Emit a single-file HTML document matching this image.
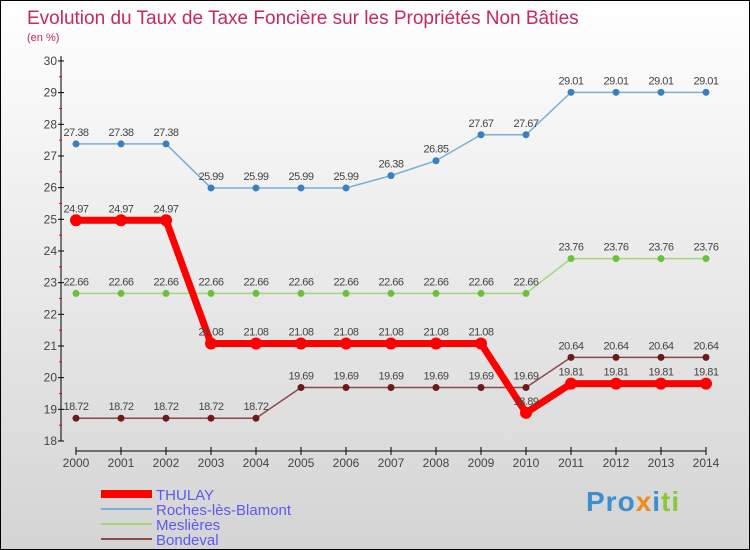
<!DOCTYPE html>
<html><head><meta charset="utf-8"><style>
body{margin:0}
#c{position:relative;width:748px;height:548px;border:1px solid #000;background:linear-gradient(#fff,#d4d4d4);font-family:"Liberation Sans",sans-serif;overflow:hidden}
svg text{font-family:"Liberation Sans",sans-serif}
</style></head><body>
<div id="c">
<svg id="s" width="748" height="548">
<text x="26" y="23" font-size="19" fill="#c8285a">Evolution du Taux de Taxe Foncière sur les Propriétés Non Bâties</text>
<text x="26" y="40" font-size="11" fill="#c8285a">(en %)</text>
<g id="g"></g>
</svg>
<div style="position:absolute;left:585px;top:485px;font-size:28px;font-weight:bold;letter-spacing:1px"><span style="color:#3a8fd0">Pro</span><span style="color:#f08a1c">x</span><span style="color:#3a8fd0">i</span><span style="color:#8cc63f">ti</span></div>
</div>
<script>
const years=[2000,2001,2002,2003,2004,2005,2006,2007,2008,2009,2010,2011,2012,2013,2014];
const yTicks=[18,19,20,21,22,23,24,25,26,27,28,29,30];
const thulay=[24.97,24.97,24.97,21.08,21.08,21.08,21.08,21.08,21.08,21.08,18.89,19.81,19.81,19.81,19.81];
const roches=[27.38,27.38,27.38,25.99,25.99,25.99,25.99,26.38,26.85,27.67,27.67,29.01,29.01,29.01,29.01];
const meslieres=[22.66,22.66,22.66,22.66,22.66,22.66,22.66,22.66,22.66,22.66,22.66,23.76,23.76,23.76,23.76];
const bondeval=[18.72,18.72,18.72,18.72,18.72,19.69,19.69,19.69,19.69,19.69,19.69,20.64,20.64,20.64,20.64];
const X=i=>75+i*45, Y=v=>440-(v-18)*31.67;
const g=document.getElementById('g'),NS='http://www.w3.org/2000/svg';
function mk(t,a){const e=document.createElementNS(NS,t);for(const k in a)e.setAttribute(k,a[k]);g.appendChild(e);return e;}
let e=mk('line',{x1:60,y1:55,x2:60,y2:440,stroke:'#000'});


e=mk('line',{x1:75,y1:450,x2:705,y2:450,stroke:'#000'});


yTicks.forEach(v=>{
 let t=mk('line',{x1:57,y1:Y(v),x2:63,y2:Y(v),stroke:'#000'});
 
 
 if(v<30){let r=mk('line',{x1:58,y1:Y(v+0.5),x2:61,y2:Y(v+0.5),stroke:'#f00'});
 
 }
 let l=mk('text',{x:56,y:Y(v)+4,'font-size':12,fill:'#444','text-anchor':'end'});l.textContent=v;
 
 
});
years.forEach((yr,i)=>{
 let t=mk('line',{x1:X(i),y1:446,x2:X(i),y2:454,stroke:'#000'});
 
 
 let l=mk('text',{x:X(i),y:466,'font-size':12,fill:'#444','text-anchor':'middle'});l.textContent=yr;
 
 
});
function series(d,col,w,r,dot,name){
 let p=mk('polyline',{points:d.map((v,i)=>X(i)+','+Y(v)).join(' '),fill:'none',stroke:col,'stroke-width':w});
 
 
 d.forEach((v,i)=>{
  let c=mk('circle',{cx:X(i),cy:Y(v),r:r,fill:dot});
  
  
  let t=mk('text',{x:X(i),y:Y(v)-8,'font-size':11,fill:'#444','text-anchor':'middle','letter-spacing':'-0.5'});t.textContent=v.toFixed(2);
  
  
 });
}
series(roches,'#7aaed6',1.5,3.5,'#3a7fbf','roches');
series(meslieres,'#a2d67a',1.5,3.5,'#6cbf3a','meslieres');
series(bondeval,'#8a4a4a',1.5,3.5,'#6a1a1a','bondeval');
series(thulay,'#f00',7,6,'#f00','thulay');
const leg=[['THULAY','#f00',8],['Roches-lès-Blamont','#7aaed6',2],['Meslières','#a2d67a',2],['Bondeval','#8a4a4a',2]];
leg.forEach((l,i)=>{
 const y=493+i*15;
 let ln=mk('line',{x1:100,y1:y,x2:151,y2:y,stroke:l[1],'stroke-width':l[2]});
 
 
 let t=mk('text',{x:155,y:y+6,'font-size':15,fill:'#5a5aee'});t.textContent=l[0];
 
 
});
</script>
</body></html>
